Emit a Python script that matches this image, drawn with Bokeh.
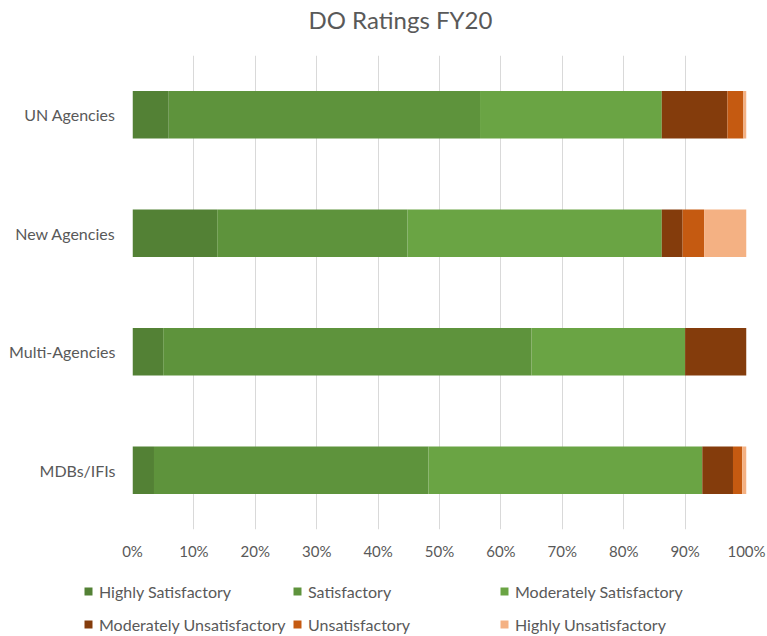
from bokeh.plotting import figure
from bokeh.layouts import column, row
from bokeh.models import (ColumnDataSource, FactorRange, Range1d, FixedTicker,
                          NumeralTickFormatter, Legend, LegendItem, Label)
from bokeh.embed import file_html
from bokeh.resources import INLINE

title_text = "DO Ratings FY20"
categories = ["MDBs/IFIs", "Multi-Agencies", "New Agencies", "UN Agencies"]
series = ["Highly Satisfactory", "Satisfactory", "Moderately Satisfactory",
          "Moderately Unsatisfactory", "Unsatisfactory", "Highly Unsatisfactory"]
highly_satisfactory = [3.5, 5.0, 13.8, 5.9]
satisfactory = [44.7, 60.0, 31.0, 50.7]
moderately_satisfactory = [44.6, 25.0, 41.4, 29.6]
moderately_unsatisfactory = [5.0, 10.0, 3.4, 10.7]
unsatisfactory = [1.5, 0.0, 3.5, 2.6]
highly_unsatisfactory = [0.7, 0.0, 6.9, 0.5]
colors = ["#538135", "#5E933C", "#6AA444", "#843C0C", "#C55A11", "#F4B183"]
tick_values = [0, 0.1, 0.2, 0.3, 0.4, 0.5, 0.6, 0.7, 0.8, 0.9, 1.0]

values = [highly_satisfactory, satisfactory, moderately_satisfactory,
          moderately_unsatisfactory, unsatisfactory, highly_unsatisfactory]
data = {"cat": categories}
for name, vals in zip(series, values):
    data[name] = [v / 100.0 for v in vals]
source = ColumnDataSource(data)

FONT = "Lato"
GRAY = "#595959"

# ---- title strip ----
tt = figure(width=767, height=40, output_backend="svg", toolbar_location=None,
            x_range=Range1d(0, 1), y_range=Range1d(0, 1),
            x_axis_location=None, y_axis_location=None, min_border=0)
tt.outline_line_color = None
tt.grid.grid_line_color = None
tt.add_layout(Label(x=308, y=21, x_units="screen", y_units="screen",
                    text=title_text, text_font=FONT, text_font_size="24px",
                    text_color=GRAY, text_align="left",
                    text_baseline="middle"))

# ---- main chart ----
p = figure(width=767, height=525, output_backend="svg", toolbar_location=None,
           y_range=FactorRange(*categories, range_padding=0),
           x_range=Range1d(0, 1),
           min_border_left=132, min_border_right=21,
           min_border_top=15, min_border_bottom=36)

p.hbar_stack(series, y="cat", height=0.4, color=colors,
             source=source, line_color=None)

p.outline_line_color = None
p.ygrid.grid_line_color = None
p.xgrid.grid_line_color = "#D9D9D9"
p.xgrid.grid_line_width = 1
p.xaxis.ticker = FixedTicker(ticks=tick_values)
p.xaxis.formatter = NumeralTickFormatter(format="0%")

for ax in (p.xaxis[0], p.yaxis[0]):
    ax.axis_line_color = None
    ax.major_tick_line_color = None
    ax.minor_tick_line_color = None
    ax.major_tick_out = 0
    ax.major_tick_in = 0
    ax.minor_tick_out = 0
    ax.major_label_text_font = FONT
    ax.major_label_text_color = GRAY
p.xaxis.major_label_text_font_size = "15px"
p.yaxis.major_label_text_font_size = "16px"
p.xaxis.major_label_standoff = 12
p.yaxis.major_label_standoff = 17

# ---- legend strip ----
lg = figure(width=767, height=71, output_backend="svg", toolbar_location=None,
            y_range=FactorRange(*categories), x_range=Range1d(0, 1),
            x_axis_location=None, y_axis_location=None, min_border=0)
lg.outline_line_color = None
lg.grid.grid_line_color = None
lg_renderers = lg.hbar_stack(series, y="cat", height=0.4, color=colors,
                             source=source, line_color=None, visible=False)

cols = [(83, [0, 3]), (292, [1, 4]), (499, [2, 5])]
for xoff, idxs in cols:
    items = [LegendItem(label=series[i], renderers=[lg_renderers[i]]) for i in idxs]
    leg = Legend(items=items, location=(xoff, 2), orientation="vertical",
                 glyph_width=10, glyph_height=10, label_height=20, spacing=13,
                 label_standoff=6, padding=0, margin=0,
                 border_line_color=None, background_fill_alpha=0,
                 label_text_font=FONT, label_text_font_size="16px",
                 label_text_color=GRAY)
    lg.add_layout(leg, "center")

layout = column(row(tt, spacing=0), p, row(lg, spacing=0), spacing=0)
open("out.html", "w").write(file_html(layout, INLINE))
